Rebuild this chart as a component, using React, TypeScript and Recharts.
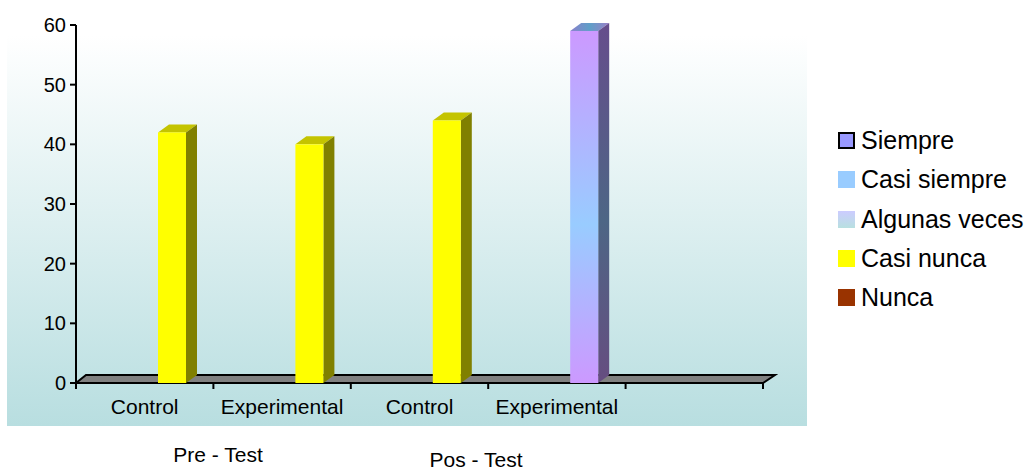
import React from 'react';
import { BarChart, Bar, XAxis, YAxis, ReferenceArea } from 'recharts';

// categories on the x axis (the last slot is empty, as in the original)
const categories = ['Control', 'Experimental', 'Control', 'Experimental', ''];
const groupLabels = ['Pre - Test', 'Pos - Test'];

// one array per answer series
const siempre = [0, 0, 0, 59, 0];
const casiSiempre = [0, 0, 0, 0, 0];
const algunasVeces = [0, 0, 0, 0, 0];
const casiNunca = [42, 40, 44, 0, 0];
const nunca = [0, 0, 0, 0, 0];

const yTicks = [0, 10, 20, 30, 40, 50, 60];

const seriesNames = ['Siempre', 'Casi siempre', 'Algunas veces', 'Casi nunca', 'Nunca'];

const data = categories.map((name, i) => ({
  name,
  siempre: siempre[i],
  casiSiempre: casiSiempre[i],
  algunasVeces: algunasVeces[i],
  casiNunca: casiNunca[i],
  nunca: nunca[i],
}));

const W = 1036;
const H = 471;
const margin = { top: 25, right: 273, left: 16, bottom: 58 };
const Y_AXIS_W = 60;
const PLOT_W = W - margin.left - margin.right - Y_AXIS_W;
const BAND = PLOT_W / categories.length;
const FONT = '"Liberation Sans", Arial, sans-serif';
const DX = 11; // 3d depth
const DY = 8;
const SHIFT = 27;

const Bar3D = (props: any) => {
  const { x, y, width, height, face, side, top } = props;
  if (!height || height <= 0) return null;
  const fx = x + SHIFT;
  const r = fx + width;
  return (
    <g>
      <polygon points={`${fx},${y} ${fx + DX},${y - DY} ${r + DX},${y - DY} ${r},${y}`} fill={top} />
      <polygon points={`${r},${y} ${r + DX},${y - DY} ${r + DX},${y + height - DY} ${r},${y + height}`} fill={side} />
      <rect x={fx} y={y} width={width} height={height} fill={face} />
    </g>
  );
};

const Floor = (props: any) => {
  const { x, y, width, height } = props;
  const b = y + height;
  return (
    <polygon
      points={`${x},${b} ${x + width},${b} ${x + width + 12},${b - 8} ${x + 10},${b - 8}`}
      fill="#808080"
      stroke="#000"
      strokeWidth={2}
      strokeLinejoin="miter"
    />
  );
};

const XTick = (props: any) => {
  const { x, y, payload, index } = props;
  return (
    <g>
      {index === 0 && <line x1={x - BAND / 2} y1={y} x2={x - BAND / 2} y2={y + 6} stroke="#000" strokeWidth={2} />}
      <line x1={x + BAND / 2} y1={y} x2={x + BAND / 2} y2={y + 6} stroke="#000" strokeWidth={2} />
      <text x={x} y={y + 31} textAnchor="middle" fontSize={21} fontFamily={FONT} fill="#000">
        {payload.value}
      </text>
    </g>
  );
};

const legendSwatches = [
  { background: '#9999ff', border: '2px solid #000' },
  { background: '#99ccff' },
  { background: 'linear-gradient(to bottom, #ccccff, #b8e0e0)' },
  { background: '#ffff00' },
  { background: '#993300' },
];

const LegendBox = () => (
  <div style={{ position: 'absolute', left: 838, top: 121, fontFamily: FONT, fontSize: 25, color: '#000' }}>
    {seriesNames.map((n, i) => (
      <div key={n} style={{ display: 'flex', alignItems: 'center', height: 39.25 }}>
        <div style={{ width: 17, height: 17, boxSizing: 'border-box', marginRight: 6, ...legendSwatches[i] }} />
        <span style={{ lineHeight: 1, whiteSpace: 'nowrap' }}>{n}</span>
      </div>
    ))}
  </div>
);

export default function App() {
  return (
    <div style={{ position: 'absolute', left: 0, top: 0, width: W, height: H, background: '#fff' }}>
      <div
        style={{
          position: 'absolute',
          left: 7,
          top: 35,
          width: 800,
          height: 391,
          background: 'linear-gradient(to bottom, #ffffff, #b8dee0)',
        }}
      />
      <div style={{ position: 'absolute', left: 0, top: 0 }}>
        <BarChart width={W} height={H} data={data} margin={margin} barSize={28}>
          <defs>
            <linearGradient id="faceSiempre" x1="0" y1="0" x2="0" y2="1">
              <stop offset="0%" stopColor="#cc99ff" />
              <stop offset="55%" stopColor="#99ccff" />
              <stop offset="100%" stopColor="#cc99ff" />
            </linearGradient>
            <linearGradient id="sideSiempre" x1="0" y1="0" x2="0" y2="1">
              <stop offset="0%" stopColor="#664d8c" />
              <stop offset="55%" stopColor="#4d6685" />
              <stop offset="100%" stopColor="#664d80" />
            </linearGradient>
            <linearGradient id="topSiempre" x1="0" y1="0" x2="1" y2="0">
              <stop offset="0%" stopColor="#8a80cc" />
              <stop offset="50%" stopColor="#5f9fc8" />
              <stop offset="100%" stopColor="#9a80c8" />
            </linearGradient>
          </defs>
          <ReferenceArea y1={0} y2={60} shape={Floor} ifOverflow="visible" />
          <XAxis
            dataKey="name"
            axisLine={false}
            tickLine={false}
            tickSize={0}
            tickMargin={0}
            height={30}
            interval={0}
            tick={<XTick />}
          />
          <YAxis
            width={Y_AXIS_W}
            domain={[0, 60]}
            ticks={yTicks}
            interval={0}
            axisLine={{ stroke: '#000', strokeWidth: 2 }}
            tickLine={{ stroke: '#000', strokeWidth: 2 }}
            tickSize={6}
            tickMargin={4}
            tick={{ fill: '#000', fontSize: 20, fontFamily: FONT }}
          />
          <Bar dataKey="siempre" name="Siempre" stackId="a" isAnimationActive={false}
            shape={(p: any) => <Bar3D {...p} face="url(#faceSiempre)" side="url(#sideSiempre)" top="url(#topSiempre)" />} />
          <Bar dataKey="casiSiempre" name="Casi siempre" stackId="a" isAnimationActive={false}
            shape={(p: any) => <Bar3D {...p} face="#99ccff" side="#4d6680" top="#7aa3cc" />} />
          <Bar dataKey="algunasVeces" name="Algunas veces" stackId="a" isAnimationActive={false}
            shape={(p: any) => <Bar3D {...p} face="#ccccff" side="#666680" top="#a3a3cc" />} />
          <Bar dataKey="casiNunca" name="Casi nunca" stackId="a" isAnimationActive={false}
            shape={(p: any) => <Bar3D {...p} face="#ffff00" side="#808000" top="#c4c400" />} />
          <Bar dataKey="nunca" name="Nunca" stackId="a" isAnimationActive={false}
            shape={(p: any) => <Bar3D {...p} face="#993300" side="#4d1a00" top="#7a2900" />} />
        </BarChart>
      </div>
      <LegendBox />
      <svg width={W} height={H} style={{ position: 'absolute', left: 0, top: 0, pointerEvents: 'none' }}>
        <text x={218} y={462} textAnchor="middle" fontSize={21} fontFamily={FONT} fill="#000">{groupLabels[0]}</text>
        <text x={476} y={467} textAnchor="middle" fontSize={21} fontFamily={FONT} fill="#000">{groupLabels[1]}</text>
      </svg>
    </div>
  );
}
